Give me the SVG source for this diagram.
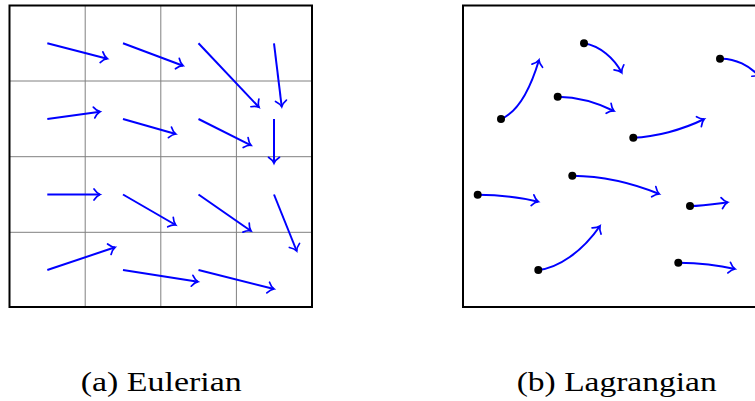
<svg xmlns="http://www.w3.org/2000/svg" width="755" height="401" viewBox="0 0 755 401">
<style>
.box{fill:none;stroke:#000;stroke-width:2}
.grid{stroke:#808080;stroke-width:1;fill:none}
.arr{stroke:#0000ff;stroke-width:2;fill:none;marker-end:url(#to)}
.dot{fill:#000}
.cap{font-family:"Liberation Serif","DejaVu Serif",serif;font-size:27px;fill:#000}
</style>
<defs>
<marker id="to" markerUnits="userSpaceOnUse" orient="auto" markerWidth="16" markerHeight="16" refX="0" refY="0" viewBox="-8 -8 16 16" overflow="visible">
<path d="M-6,-5.5 C-4,-2.5 -1.5,-0.6 0,0 C-1.5,0.6 -4,2.5 -6,5.5" fill="none" stroke="#0000ff" stroke-width="1.7" stroke-linecap="round"/>
</marker>
</defs>
<rect x="0" y="0" width="755" height="401" fill="#fff"/>
<g id="eulerian">
<g id="grid">
<line class="grid" x1="85.2" y1="5.5" x2="85.2" y2="307"/>
<line class="grid" x1="160.8" y1="5.5" x2="160.8" y2="307"/>
<line class="grid" x1="236.4" y1="5.5" x2="236.4" y2="307"/>
<line class="grid" x1="9.5" y1="81" x2="312" y2="81"/>
<line class="grid" x1="9.5" y1="156.7" x2="312" y2="156.7"/>
<line class="grid" x1="9.5" y1="232.3" x2="312" y2="232.3"/>
</g>
<rect class="box" x="9.5" y="5.5" width="302.5" height="301.5"/>
<g id="eulerian-arrows">
<line class="arr" x1="47.3" y1="43.3" x2="107.3" y2="58.7"/>
<line class="arr" x1="123" y1="43.3" x2="183" y2="65.7"/>
<line class="arr" x1="198.5" y1="43.3" x2="259" y2="107.3"/>
<line class="arr" x1="274" y1="43.3" x2="281.7" y2="106.7"/>
<line class="arr" x1="47.3" y1="119" x2="100" y2="111.7"/>
<line class="arr" x1="123" y1="119" x2="175.7" y2="134"/>
<line class="arr" x1="198.5" y1="119" x2="251" y2="145.3"/>
<line class="arr" x1="274" y1="119" x2="274" y2="163.3"/>
<line class="arr" x1="47.3" y1="194.5" x2="100" y2="194.5"/>
<line class="arr" x1="123" y1="194.5" x2="175.7" y2="225"/>
<line class="arr" x1="198.5" y1="194.5" x2="251" y2="231"/>
<line class="arr" x1="274" y1="194.5" x2="296.7" y2="251"/>
<line class="arr" x1="47.3" y1="270" x2="115" y2="247.3"/>
<line class="arr" x1="123" y1="270" x2="198" y2="281.7"/>
<line class="arr" x1="198.5" y1="270" x2="274" y2="289"/>
</g>
</g>
<g id="lagrangian">
<rect class="box" x="463" y="5.5" width="302.5" height="301.5"/>
<g id="lagrangian-paths">
<path class="arr" d="M501,119 C518,112 530,90 539,60"/>
<path class="arr" d="M584,43.3 C600,46 614,58 621.7,72.7"/>
<path class="arr" d="M557.7,96.7 C575,97 596,102 614,111"/>
<path class="arr" d="M633.3,137.7 C655,137 682,130 704.3,119"/>
<path class="arr" d="M720,58.7 C735,58 750,66 760,77"/>
<path class="arr" d="M477.7,194.7 C500,195 520,197 538.3,201.7"/>
<path class="arr" d="M572.3,175.7 C600,176 630,182 659.3,194"/>
<path class="arr" d="M690,206 C702,206 715,204 727.7,202.3"/>
<path class="arr" d="M538.3,270 C558,268 582,252 600,226"/>
<path class="arr" d="M678.3,262.7 C700,263 718,265 735,269"/>
</g>
<g id="particles">
<circle class="dot" cx="501" cy="119" r="4"/>
<circle class="dot" cx="584" cy="43.3" r="4"/>
<circle class="dot" cx="557.7" cy="96.7" r="4"/>
<circle class="dot" cx="633.3" cy="137.7" r="4"/>
<circle class="dot" cx="720" cy="58.7" r="4"/>
<circle class="dot" cx="477.7" cy="194.7" r="4"/>
<circle class="dot" cx="572.3" cy="175.7" r="4"/>
<circle class="dot" cx="690" cy="206" r="4"/>
<circle class="dot" cx="538.3" cy="270" r="4"/>
<circle class="dot" cx="678.3" cy="262.7" r="4"/>
</g>
</g>
<g id="captions">
<text class="cap" x="80.7" y="391" textLength="161" lengthAdjust="spacingAndGlyphs">(a) Eulerian</text>
<text class="cap" x="516.7" y="391" textLength="200" lengthAdjust="spacingAndGlyphs">(b) Lagrangian</text>
</g>
</svg>
